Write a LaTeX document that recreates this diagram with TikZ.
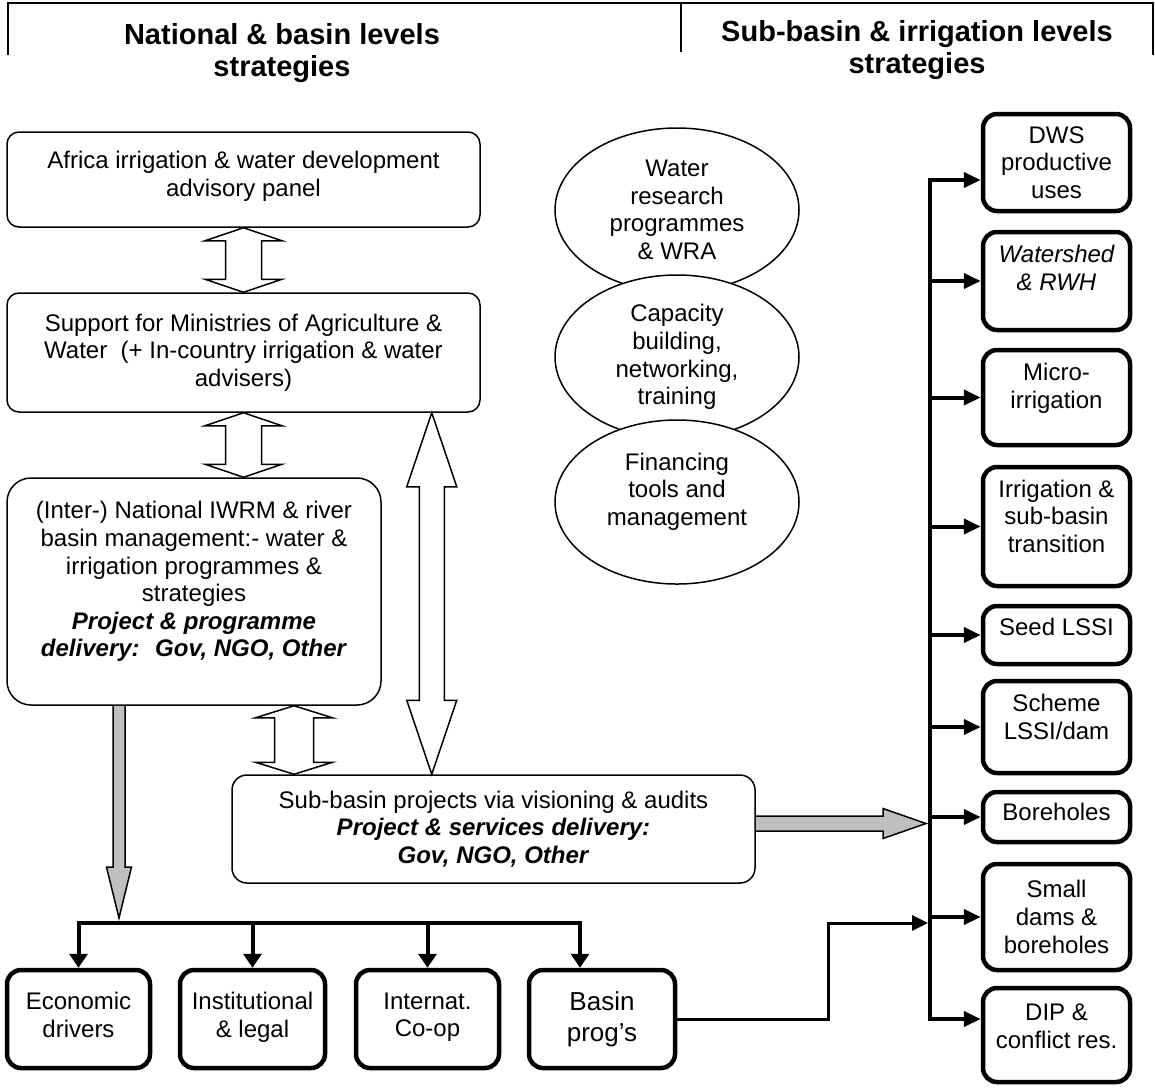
\documentclass[tikz,border=0pt]{standalone}
\usepackage{fontspec}
\setmainfont{Liberation Sans}
\usetikzlibrary{positioning,calc,arrows.meta,shapes.geometric}

\newcommand{\bodysize}{\fontsize{24}{27.6}\selectfont}
\newcommand{\bi}[1]{\textbf{\textit{#1}}}

% open double arrow: top point, bottom point, half shaft, half head, head length
\newcommand{\twoway}[5]{%
  \draw[hollow] let \p1=#1, \p2=#2 in
    (\x1,\y1) -- (\x1+#4,\y1-#5) -- (\x1+#3,\y1-#5) -- (\x1+#3,\y2+#5)
    -- (\x1+#4,\y2+#5) -- (\x1,\y2) -- (\x1-#4,\y2+#5) -- (\x1-#3,\y2+#5)
    -- (\x1-#3,\y1-#5) -- (\x1-#4,\y1-#5) -- cycle;}

\begin{document}
\begin{tikzpicture}[x=1pt,y=-1pt,
    panel/.style={draw,line width=1.5pt,rounded corners=12pt,fill=white,
        align=center,font=\bodysize,inner sep=0pt},
    side box/.style={draw,line width=4.5pt,rounded corners=14pt,fill=white,
        align=center,font=\bodysize,inner sep=0pt,minimum width=147pt},
    base box/.style={side box,minimum height=98pt},
    blob/.style={ellipse,draw,line width=1.5pt,fill=white,align=center,
        font=\bodysize,inner sep=0pt,minimum width=244pt,minimum height=164pt},
    heading/.style={align=center,font=\fontsize{29}{32}\selectfont\bfseries},
    hollow/.style={draw,line width=1.5pt,fill=white,line join=miter},
    grey arrow/.style={draw,line width=1.5pt,fill=black!25,line join=miter},
    bus/.style={line width=4pt},
    link/.style={line width=3pt},
    tip/.style={-{Triangle[length=17pt,width=15pt]}},
    down tip/.style={-{Triangle[length=14pt,width=18pt]}}]

\useasboundingbox (0,0) rectangle (1155,1088);

% headings
\draw[line width=1.5pt] (8,55) -- (8,3) -- (1153,3) -- (1153,55);
\draw[line width=1.5pt] (681,3) -- (681,52);
\node[heading] (natl) at (282,53) {National \& basin levels\\strategies};
\node[heading] (subl) at (917,50) {Sub-basin \& irrigation levels\\strategies};

% national & basin column
\node[panel,minimum width=473pt,minimum height=95pt] (adv) at (243.5,179.5)
    {Africa irrigation \& water development\\advisory panel\\[-16pt]};
\node[panel,minimum width=473pt,minimum height=119pt] (sup) at (243.5,352.5)
    {Support for Ministries of Agriculture \&\\Water~ (+ In-country irrigation \& water\\advisers)};
\node[panel,rounded corners=24pt,minimum width=374pt,minimum height=227pt] (nat) at (194,591.5)
    {(Inter-) National IWRM \& river\\basin management:- water \&\\irrigation programmes \&\\strategies\\
     \bi{Project \& programme}\\\bi{delivery:~ Gov, NGO, Other}\\[-3pt]};
\node[panel,rounded corners=15pt,minimum width=523pt,minimum height=108pt] (sub) at (493.5,829)
    {Sub-basin projects via visioning \& audits\\\bi{Project \& services delivery:}\\\bi{Gov, NGO, Other}};

% support themes
\node[blob] (wra) at (677,210) {Water\\research\\programmes\\\& WRA};
\node[blob] (cap) at (677,357) {Capacity\\building,\\networking,\\training};
\node[blob] (fin) at (677,502) {Financing\\tools and\\management\\[-2pt]};

% sub-basin & irrigation column
\node[side box,minimum height=97pt] (dws) at (1056.5,162.5) {DWS\\productive\\uses};
\node[side box,minimum height=98pt,font=\bodysize\itshape] (wat) at (1056.5,281) {Watershed\\\& RWH\\[-1pt]};
\node[side box,minimum height=95pt] (mic) at (1056.5,397.5) {Micro-\\irrigation\\[-4pt]};
\node[side box,minimum height=119pt] (irr) at (1056.5,526.5) {Irrigation \&\\sub-basin\\transition\\[-7pt]};
\node[side box,minimum height=58pt] (seed) at (1056.5,635) {Seed LSSI\\[-12pt]};
\node[side box,minimum height=92pt] (sch) at (1056.5,727) {Scheme\\LSSI/dam\\[-7pt]};
\node[side box,minimum height=50pt] (bor) at (1056.5,817) {Boreholes\\[-18pt]};
\node[side box,minimum height=106pt] (sdam) at (1056.5,917) {Small\\dams \&\\boreholes};
\node[side box,minimum height=94pt] (dip) at (1056.5,1035) {DIP \&\\conflict res.\\[-10pt]};

% bottom row
\node[base box,minimum width=143pt] (econ) at (78.5,1019) {Economic\\drivers\\[-19pt]};
\node[base box,minimum width=145pt] (inst) at (252.5,1019) {Institutional\\\& legal\\[-19pt]};
\node[base box,minimum width=143pt] (coop) at (427.5,1019) {Internat.\\Co-op\\[-19pt]};
\node[base box,minimum width=146pt,font=\fontsize{26}{31}\selectfont] (basin) at (602,1019) {Basin\\prog’s};

\coordinate (rb) at (930,1019);
\coordinate (lb) at (119,923);

% open arrows between the panels
\twoway{(adv.south)}{(sup.north)}{18pt}{38.5pt}{13pt}
\twoway{(sup.south)}{(sup.south |- nat.north)}{18pt}{38.5pt}{13pt}
\twoway{([xshift=100pt]nat.south)}{($(nat.south |- sub.north)+(100pt,0)$)}{19.5pt}{38.5pt}{12pt}
\twoway{([xshift=-49pt]sup.south east)}{($(sup.south east |- sub.north)+(-49pt,0)$)}{12.5pt}{25pt}{74pt}

% grey delivery arrows
\draw[grey arrow] let \p1=([xshift=-75pt]nat.south), \p2=(lb) in
    (\x1-6pt,\y1) -- (\x1-6pt,\y2+56pt) -- (\x1-12.5pt,\y2+56pt) -- (\x1,\y2+5pt)
    -- (\x1+12.5pt,\y2+56pt) -- (\x1+6pt,\y2+56pt) -- (\x1+6pt,\y1);
\draw[grey arrow] let \p1=([yshift=5.5pt]sub.east), \p2=(rb) in
    (\x1,\y1+7.5pt) -- (\x2-47pt,\y1+7.5pt) -- (\x2-47pt,\y1+15pt) -- (\x2-4pt,\y1)
    -- (\x2-47pt,\y1-15pt) -- (\x2-47pt,\y1-7.5pt) -- (\x1,\y1-7.5pt);

% bottom bus
\draw[bus,{Triangle[length=14pt,width=18pt]}-{Triangle[length=14pt,width=18pt]}]
    (econ.north) |- ($(basin.north |- lb)+(-22pt,0)$) -- ([xshift=-22pt]basin.north);
\foreach \b in {inst,coop}
    \draw[bus,down tip] (\b.north |- lb) -- (\b.north);

% right bus
\draw[bus,{Triangle[length=17pt,width=15pt]}-{Triangle[length=17pt,width=15pt]}]
    ([yshift=-17.5pt]dws.west) -| (rb) -- ([yshift=16pt]dip.west);
\foreach \b in {wat,mic,irr,seed,sch,bor,sdam}
    \draw[bus,tip] (\b.west -| rb) -- (\b.west);

\draw[link,-{Triangle[length=16pt,width=15pt]},shorten >=2pt]
    (basin.east) -- ++(151,0) |- (rb |- lb);
\end{tikzpicture}
\end{document}
